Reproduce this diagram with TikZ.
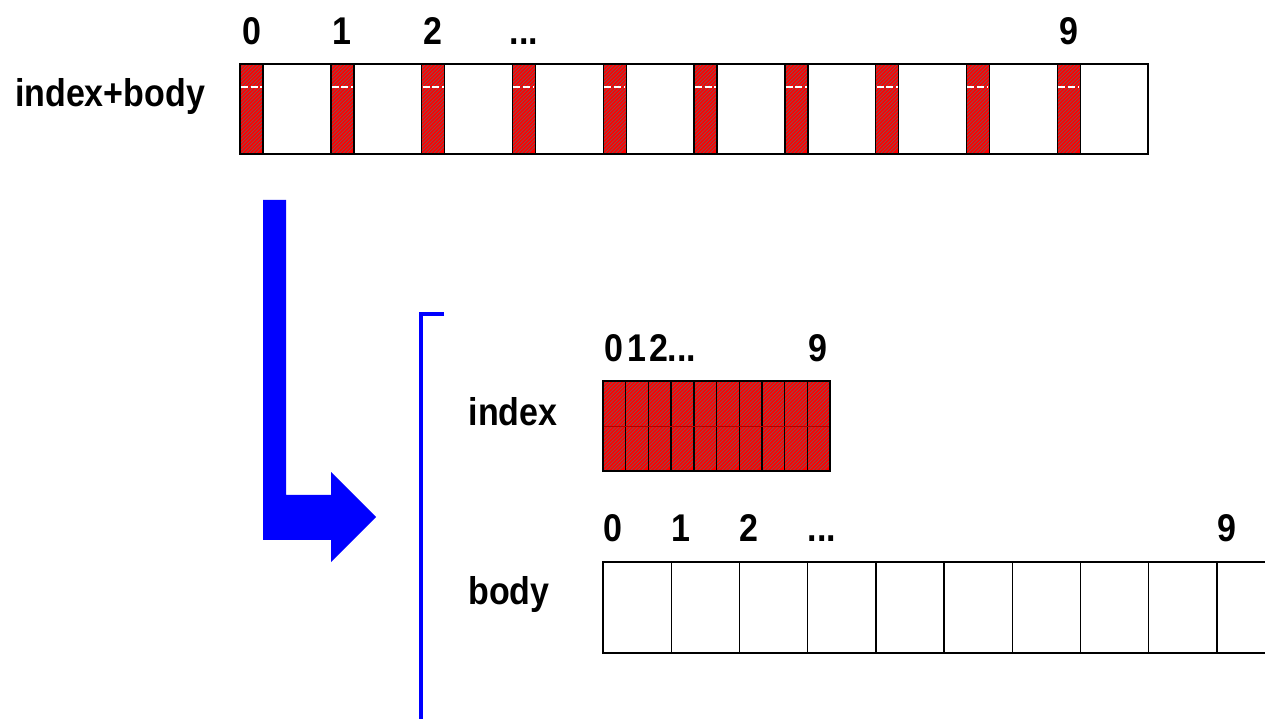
\documentclass[tikz,border=0pt]{standalone}
\usepackage{fontspec}
\setmainfont{Liberation Sans}[FakeStretch=0.88]

\newcommand\skipdots{.\kern0pt.\kern0pt.}
% red cell with diagonal hatching, corners (#1,#2) and (#3,#4)
\newcommand\hatchcell[4]{
  \fill[red] (#1,#2) rectangle (#3,#4);
  \begin{scope}
    \clip (#1,#2) rectangle (#3,#4);
    \foreach \k in {0,3.6,...,118}
      \draw[hatchline] (#1-100+\k,#4) -- ++(100,-100);
  \end{scope}
  \draw[cellbox] (#1,#2) rectangle (#3,#4);
}
\tikzset{
  hatchline/.style={black!60,line width=0.3pt},
  cellbox/.style={draw=black,line width=0.8pt},
  lbl/.style={font=\fontsize{22}{24}\selectfont\bfseries,inner sep=0pt},
  numlbl/.style={lbl,text height=16pt,text depth=0pt},
}

\begin{document}
\begin{tikzpicture}[x=0.02cm,y=-0.02cm]
  \useasboundingbox (0,0) rectangle (1265,719);
  \clip (0,0) rectangle (1265,719);

  % combined file: index entries interleaved with body
  \draw[cellbox] (240,64) rectangle (1148,154);
  \foreach \i in {0,...,9} {
    \hatchcell{240+\i*90.8}{64}{263+\i*90.8}{154}
    \draw[white,line width=0.6pt,dash pattern=on 4pt off 1.5pt] (241+\i*90.8,87) -- (262+\i*90.8,87);
  }
  \foreach \t/\i in {0/0,1/1,2/2,\skipdots/3,9/9}
    \node[numlbl] (top\i) at (251.5+\i*90.8,30) {\t};
  \node[lbl] (combined) at (110,97) {index+body};

  % split arrow
  \fill[blue] (263,200) -- (286,200) -- (286,495) -- (331,495) -- (331,472)
    -- (376,517) -- (331,562) -- (331,540) -- (263,540) -- cycle;
  \draw[blue,line width=2.4pt] (444,314) -- (421,314) -- (421,725);

  % separated index
  \foreach \i in {0,...,9}
    \hatchcell{603+\i*22.7}{381}{625.7+\i*22.7}{471}
  \draw[red!70!black,line width=0.3pt] (604,426) -- (829,426);
  \foreach \t/\i in {0/0,1/1,2/2,\skipdots/3,9/9}
    \node[numlbl] (idx\i) at (614+\i*22.7,347) {\t};
  \node[lbl] (index) at (513,412) {index};

  % separated body
  \foreach \i in {0,...,9}
    \draw[cellbox] (603+\i*68.2,562) rectangle (671.2+\i*68.2,653);
  \foreach \t/\i in {0/0,1/1,2/2,\skipdots/3,9/9}
    \node[numlbl,anchor=west] (body\i) at (603+\i*68.2,527) {\t};
  \node[lbl] (body) at (509,595) {body};
\end{tikzpicture}
\end{document}
